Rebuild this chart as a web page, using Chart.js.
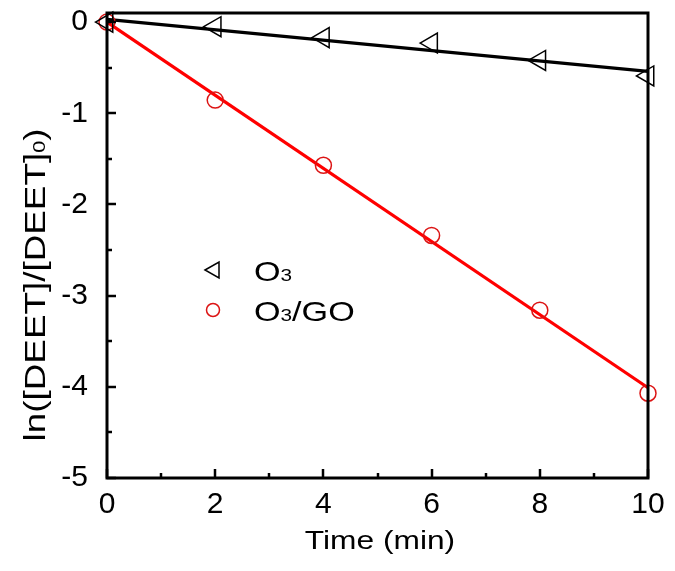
<!DOCTYPE html>
<html>
<head>
<meta charset="utf-8">
<script src="https://cdn.jsdelivr.net/npm/chart.js@4.4.1/dist/chart.umd.min.js"></script>
<style>
  html, body { margin: 0; padding: 0; background: #fff; }
  #wrap { width: 675px; height: 571px; position: relative; }
</style>
</head>
<body>
<div id="wrap"><canvas id="c" width="675" height="571"></canvas></div>
<script>
// ---- data ----
const times = [0, 2, 4, 6, 8, 10];
const o3Values = [0, -0.05, -0.17, -0.23, -0.42, -0.59];
const o3goValues = [0, -0.855, -1.57, -2.34, -3.16, -4.07];
const fitTimes = [0, 10];
const o3Fit = [0.03, -0.54];
const o3goFit = [0.0, -4.01];
const xTickValues = [0, 2, 4, 6, 8, 10];
const xMinorValues = [1, 3, 5, 7, 9];
const yTickValues = [0, -1, -2, -3, -4, -5];
const yMinorValues = [-0.5, -1.5, -2.5, -3.5, -4.5];
const xTitle = 'Time (min)';
const seriesNames = ['O3', 'O3/GO'];

const FONT = '"Liberation Sans", Arial, sans-serif';
const RED = 'rgb(255,0,0)';
const RED_MARK = 'rgb(220,20,20)';

const toPts = (xs, ys) => xs.map((x, i) => ({x: x, y: ys[i]}));

const framePlugin = {
  id: 'frame',
  afterDatasetsDraw(chart) {
    const {ctx, chartArea: a, scales} = chart;
    ctx.save();
    ctx.strokeStyle = '#000';
    ctx.lineWidth = 2.5;
    ctx.lineCap = 'butt';
    const drawX = (v, len) => {
      const px = Math.round(scales.x.getPixelForValue(v));
      ctx.beginPath(); ctx.moveTo(px, a.bottom); ctx.lineTo(px, a.bottom - len); ctx.stroke();
    };
    const drawY = (v, len) => {
      const py = Math.round(scales.y.getPixelForValue(v));
      ctx.beginPath(); ctx.moveTo(a.left, py); ctx.lineTo(a.left + len, py); ctx.stroke();
    };
    xTickValues.forEach(v => drawX(v, 9));
    xMinorValues.forEach(v => drawX(v, 5));
    yTickValues.forEach(v => drawY(v, 9));
    yMinorValues.forEach(v => drawY(v, 5));
    ctx.lineWidth = 3;
    ctx.strokeRect(a.left, a.top, a.right - a.left, a.bottom - a.top);
    ctx.restore();
  }
};

const textPlugin = {
  id: 'texts',
  afterDraw(chart) {
    const {ctx} = chart;
    ctx.save();
    ctx.fillStyle = '#000';
    // x title
    ctx.save();
    ctx.translate(380, 542);
    ctx.scale(1.22, 1);
    ctx.font = '26px ' + FONT;
    ctx.textAlign = 'center';
    ctx.textBaseline = 'middle';
    ctx.fillText(xTitle, 0, 0);
    ctx.restore();

    // y title rotated: ln([DEET]/[DEET]0) with subscript 0
    ctx.save();
    ctx.translate(35, 285);
    ctx.rotate(-Math.PI / 2);
    ctx.scale(1.27, 1);
    const mainFont = '29px ' + FONT;
    const subFont = '17px ' + FONT;
    ctx.textBaseline = 'alphabetic';
    ctx.font = mainFont;
    const p1 = 'ln([DEET]/[DEET]';
    const w1 = ctx.measureText(p1).width;
    ctx.font = subFont;
    const w2 = ctx.measureText('0').width;
    ctx.font = mainFont;
    const w3 = ctx.measureText(')').width;
    const tot = w1 + w2 + w3;
    const x0 = -tot / 2;
    const base = 10;
    ctx.fillText(p1, x0, base);
    ctx.font = subFont;
    ctx.fillText('0', x0 + w1, base);
    ctx.font = mainFont;
    ctx.fillText(')', x0 + w1 + w2, base);
    ctx.restore();

    // legend
    const drawLabel = (x, yBase, parts) => {
      ctx.save();
      ctx.translate(x, yBase);
      ctx.scale(1.22, 1);
      let cx = 0;
      parts.forEach(p => {
        ctx.font = (p.sub ? '17px ' : '28px ') + FONT;
        ctx.textBaseline = 'alphabetic';
        ctx.fillText(p.t, cx, 0);
        cx += ctx.measureText(p.t).width;
      });
      ctx.restore();
    };
    ctx.strokeStyle = '#000';
    ctx.lineWidth = 1.5;
    ctx.beginPath();
    ctx.moveTo(205, 270);
    ctx.lineTo(219, 262);
    ctx.lineTo(219, 278);
    ctx.closePath();
    ctx.stroke();
    drawLabel(254, 281, [{t: 'O'}, {t: '3', sub: true}]);
    ctx.strokeStyle = RED_MARK;
    ctx.beginPath();
    ctx.arc(213, 310, 6.5, 0, Math.PI * 2);
    ctx.stroke();
    drawLabel(254, 321, [{t: 'O'}, {t: '3', sub: true}, {t: '/GO'}]);
    ctx.restore();
  }
};

new Chart(document.getElementById('c'), {
  type: 'scatter',
  data: {
    datasets: [
      {
        type: 'line', label: 'O3 fit', data: toPts(fitTimes, o3Fit),
        borderColor: '#000', borderWidth: 3.2, pointRadius: 0, fill: false, clip: false, order: 3
      },
      {
        type: 'line', label: 'O3/GO fit', data: toPts(fitTimes, o3goFit),
        borderColor: RED, borderWidth: 3.2, pointRadius: 0, fill: false, clip: false, order: 3
      },
      {
        label: seriesNames[0], data: toPts(times, o3Values),
        pointStyle: 'triangle', rotation: -90, pointRadius: 11.5,
        borderColor: '#000', backgroundColor: 'rgba(0,0,0,0)', borderWidth: 1.5,
        clip: false, order: 1
      },
      {
        label: seriesNames[1], data: toPts(times, o3goValues),
        pointStyle: 'circle', pointRadius: 8,
        borderColor: RED_MARK, backgroundColor: 'rgba(0,0,0,0)', borderWidth: 1.5,
        clip: false, order: 1
      }
    ]
  },
  options: {
    responsive: false,
    animation: false,
    events: [],
    layout: { padding: { top: 13, right: 27, left: 0, bottom: 0 } },
    plugins: { legend: { display: false }, tooltip: { enabled: false } },
    scales: {
      x: {
        type: 'linear', min: 0, max: 10,
        grid: { display: false },
        border: { display: false },
        afterBuildTicks: s => { s.ticks = xTickValues.map(v => ({value: v})); },
        afterFit: s => { s.height = 93; s.paddingLeft = 0; s.paddingRight = 0; },
        ticks: { color: '#000', font: { family: FONT, size: 30 }, padding: 1, maxRotation: 0, autoSkip: false }
      },
      y: {
        type: 'linear', min: -5, max: 0.1,
        grid: { display: false },
        border: { display: false },
        afterBuildTicks: s => { s.ticks = yTickValues.map(v => ({value: v})); },
        afterFit: s => { s.width = 107; s.paddingTop = 0; s.paddingBottom = 0; },
        ticks: { color: '#000', font: { family: FONT, size: 30 }, padding: 11, autoSkip: false,
                 callback: v => String(v) }
      }
    }
  },
  plugins: [framePlugin, textPlugin]
});
</script>
</body>
</html>
